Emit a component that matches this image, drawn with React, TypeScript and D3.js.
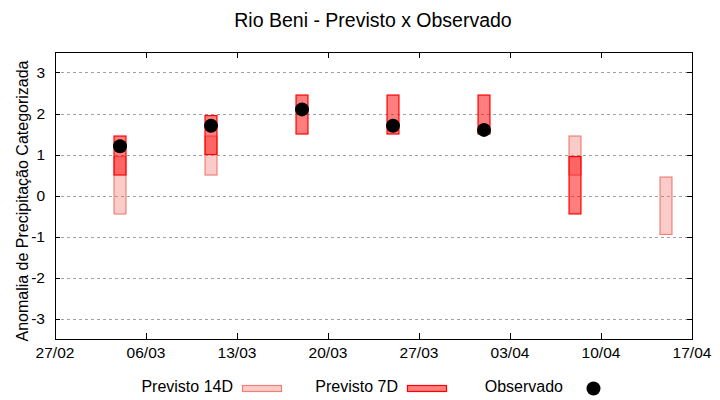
import * as d3 from "d3";

// weekly forecast dates (UTC)
const dates = ["2023-03-04", "2023-03-11", "2023-03-18", "2023-03-25", "2023-04-01", "2023-04-08", "2023-04-15"];
const prev14Lo = [-0.45, 0.5, null, null, null, 0.5, -0.95];
const prev14Hi = [0.95, 1.45, null, null, null, 1.45, 0.45];
const prev7Lo = [0.5, 1.0, 1.5, 1.5, 1.5, -0.45, null];
const prev7Hi = [1.45, 1.95, 2.45, 2.45, 2.45, 0.95, null];
const observed = [1.2, 1.7, 2.1, 1.7, 1.6, null, null];
const yTicks = [-3, -2, -1, 0, 1, 2, 3];
const xTickLabels = ["27/02", "06/03", "13/03", "20/03", "27/03", "03/04", "10/04", "17/04"];

const width = 720;
const height = 400;
const marginLeft = 55;
const marginRight = 28;
const marginTop = 52;
const marginBottom = 61;
const font = "'Liberation Sans', Arial, sans-serif";

const parse = (s: string) => new Date(s + "T00:00:00Z");

export default function App() {
    const start = parse("2023-02-27");
    const end = parse("2023-04-17");
    const x = d3.scaleUtc([start, end], [marginLeft, width - marginRight]);
    const y = d3.scaleLinear([-3.5, 3.5], [height - marginBottom, marginTop]);
    const xTicks = xTickLabels.map((_, i) => d3.utcDay.offset(start, 7 * i));
    const half = 11 * 3600 * 1000; // box half width in ms

    const box = (d: string, lo: number, hi: number) => {
        const t = parse(d).getTime();
        const x0 = x(new Date(t - half));
        const x1 = x(new Date(t + half));
        return { x: x0, y: y(hi), w: x1 - x0, h: y(lo) - y(hi) };
    };

    const left = marginLeft;
    const right = width - marginRight;
    const top = marginTop;
    const bottom = height - marginBottom;

    return (
        <svg width={width} height={height} style={{ position: "absolute", left: 0, top: 0 }} fontFamily={font}>
            <rect width={width} height={height} fill="white" />
            <text x={373} y={26.5} textAnchor="middle" fontSize={19.5} fill="#000">
                Rio Beni - Previsto x Observado
            </text>

            {/* grid */}
            <g stroke="#a0a0a0" strokeWidth={1} strokeDasharray="3,3">
                {yTicks.map((t) => (
                    <line key={t} x1={left} x2={right} y1={Math.round(y(t)) + 0.5} y2={Math.round(y(t)) + 0.5} />
                ))}
            </g>

            {/* 14D forecast */}
            <g fill="rgba(240,110,100,0.35)" stroke="#f08078" strokeWidth={1.2}>
                {dates.map((d, i) => {
                    const lo = prev14Lo[i];
                    const hi = prev14Hi[i];
                    if (lo == null || hi == null) return null;
                    const b = box(d, lo, hi);
                    return <rect key={i} x={b.x} y={b.y} width={b.w} height={b.h} />;
                })}
            </g>

            {/* 7D forecast */}
            <g fill="rgba(255,0,0,0.5)" stroke="#ff0000" strokeWidth={1.2}>
                {dates.map((d, i) => {
                    const lo = prev7Lo[i];
                    const hi = prev7Hi[i];
                    if (lo == null || hi == null) return null;
                    const b = box(d, lo, hi);
                    return <rect key={i} x={b.x} y={b.y} width={b.w} height={b.h} />;
                })}
            </g>

            {/* observed */}
            <g fill="#000">
                {dates.map((d, i) => {
                    const v = observed[i];
                    if (v == null) return null;
                    return <circle key={i} cx={x(parse(d))} cy={y(v)} r={7} />;
                })}
            </g>

            {/* ticks */}
            <g stroke="#000" strokeWidth={1}>
                {yTicks.map((t) => {
                    const yy = Math.round(y(t)) + 0.5;
                    return (
                        <g key={t}>
                            <line x1={left} x2={left + 5} y1={yy} y2={yy} />
                            <line x1={right - 5} x2={right} y1={yy} y2={yy} />
                        </g>
                    );
                })}
                {xTicks.map((t, i) => {
                    const xx = Math.round(x(t)) + 0.5;
                    return (
                        <g key={i}>
                            <line x1={xx} x2={xx} y1={bottom - 6} y2={bottom} />
                            <line x1={xx} x2={xx} y1={top} y2={top + 6} />
                        </g>
                    );
                })}
            </g>

            {/* frame */}
            <rect x={left + 0.5} y={top + 0.5} width={right - left} height={bottom - top} fill="none" stroke="#000" strokeWidth={1} />

            {/* tick labels */}
            <g fontSize={15.5} fill="#000">
                {yTicks.map((t) => (
                    <text key={t} x={left - 10} y={y(t) + 5.5} textAnchor="end">
                        {t}
                    </text>
                ))}
                {xTicks.map((t, i) => (
                    <text key={i} x={x(t)} y={bottom + 19} textAnchor="middle">
                        {xTickLabels[i]}
                    </text>
                ))}
            </g>

            <text
                transform={`translate(28,201) rotate(-90)`}
                textAnchor="middle"
                fontSize={16}
                fill="#000"
            >
                Anomalia de Precipitação Categorizada
            </text>

            {/* legend */}
            <g fontSize={16} fill="#000">
                <text x={233} y={391.5} textAnchor="end">Previsto 14D</text>
                <rect x={242.5} y={385.5} width={39} height={6} fill="rgba(240,110,100,0.35)" stroke="#f08078" strokeWidth={1.2} />
                <text x={398} y={391.5} textAnchor="end">Previsto 7D</text>
                <rect x={407.5} y={385.5} width={39} height={6} fill="rgba(255,0,0,0.5)" stroke="#ff0000" strokeWidth={1.2} />
                <text x={563} y={391.5} textAnchor="end">Observado</text>
                <circle cx={593.5} cy={388.5} r={7} fill="#000" />
            </g>
        </svg>
    );
}
